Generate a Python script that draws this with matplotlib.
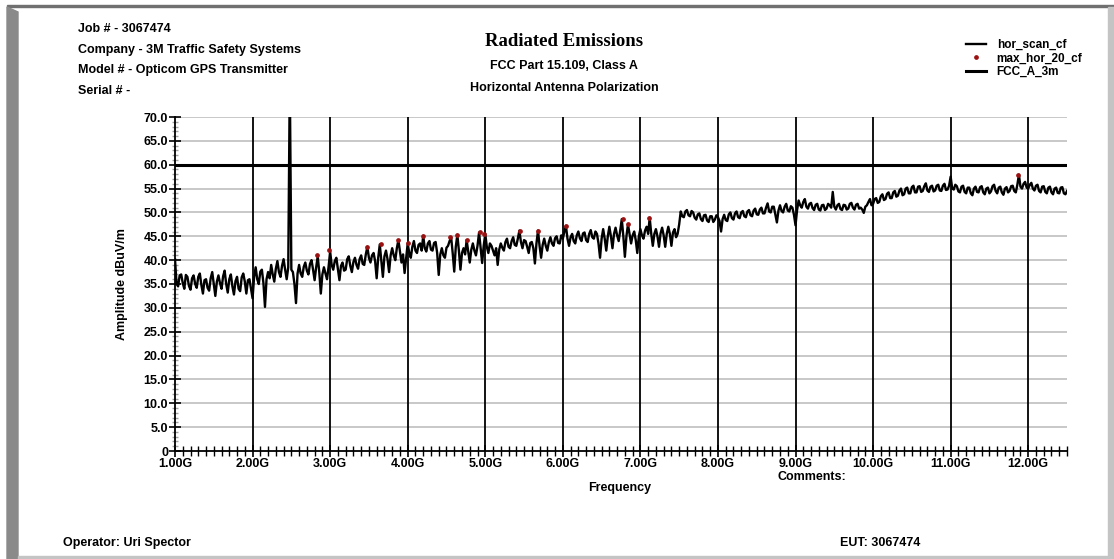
import numpy as np
import matplotlib
matplotlib.use("Agg")
import matplotlib.pyplot as plt
from matplotlib.patches import Rectangle, Polygon
from matplotlib.ticker import MultipleLocator, FuncFormatter

plt.rcParams['font.family'] = ['Liberation Sans', 'DejaVu Sans']
plt.rcParams['font.weight'] = 'bold'

# sweep grid of the analyzer trace (GHz)
freq_start = 1.00
freq_step = 0.02

# hor_scan_cf, dBuV/m, one block per GHz (x.00 .. x.98)
hor_scan_cf = [
    # 1 GHz
    40.2, 35.0, 34.5, 36.8, 37.0, 35.2, 34.0, 36.9, 36.5, 34.6,
    33.8, 36.2, 36.8, 35.0, 34.2, 36.5, 37.2, 34.8, 33.0, 35.8,
    36.0, 34.2, 33.6, 36.2, 37.5, 35.0, 32.5, 35.5, 36.8, 35.2,
    34.0, 36.6, 37.8, 35.0, 33.2, 36.0, 37.0, 34.5, 32.8, 35.6,
    36.5, 34.0, 33.5, 36.4, 37.2, 35.5, 33.0, 35.8, 36.0, 34.0,
    # 2 GHz
    32.0, 36.5, 38.5, 36.0, 35.0, 37.6, 38.0, 35.2, 30.2, 36.0,
    37.5, 36.2, 39.0, 37.0, 35.5, 38.2, 39.8, 37.5, 36.5, 38.8,
    40.2, 38.0, 36.0, 38.5, 78.0, 38.0, 37.5, 35.0, 31.0, 37.2,
    39.0, 37.2, 36.5, 38.6, 39.5, 37.8, 37.0, 39.2, 40.0, 38.0,
    35.8, 38.5, 40.8, 37.5, 33.0, 37.0, 38.5, 37.2, 36.0, 38.6,
    # 3 GHz
    41.8, 39.0, 38.0, 39.8, 40.5, 38.2, 35.8, 38.8, 39.5, 37.8,
    38.0, 40.2, 40.8, 38.8, 37.5, 39.6, 40.5, 39.0, 38.2, 40.2,
    41.0, 39.2, 39.0, 41.2, 42.8, 40.5, 39.5, 41.0, 41.5, 39.8,
    36.2, 40.5, 43.3, 40.0, 36.5, 40.8, 42.0, 40.2, 37.5, 41.0,
    42.5, 41.0, 40.0, 42.5, 44.2, 41.8, 39.5, 41.2, 37.3, 40.5,
    # 4 GHz
    43.5, 41.5, 40.5, 42.8, 44.0, 42.0, 41.5, 43.2, 43.5, 42.0,
    45.1, 42.5, 41.8, 43.5, 44.0, 42.2, 42.0, 43.6, 43.8, 41.5,
    36.9, 41.2, 42.5, 41.0, 40.5, 42.6, 43.0, 44.0, 44.8, 41.5,
    37.6, 42.8, 45.3, 42.0, 38.0, 41.5, 42.5, 41.2, 44.2, 41.8,
    39.5, 42.2, 43.5, 42.0, 41.0, 43.0, 45.8, 42.5, 39.4, 43.0,
    # 5 GHz
    45.5, 42.8, 41.5, 43.5, 43.0, 42.0, 41.0, 42.5, 39.0, 42.2,
    43.5, 42.6, 42.0, 43.8, 44.5, 42.8, 42.5, 44.0, 44.8, 43.2,
    43.0, 44.5, 46.2, 43.8, 42.5, 44.2, 44.0, 42.8, 41.5, 43.6,
    43.8, 42.5, 39.3, 43.5, 46.2, 43.0, 40.5, 43.2, 44.5, 43.0,
    42.0, 43.8, 44.8, 43.5, 43.0, 44.6, 45.0, 43.6, 43.5, 45.2,
    # 6 GHz
    44.5, 46.0, 47.2, 44.5, 43.0, 44.8, 45.5, 44.0, 43.5, 45.2,
    46.0, 44.6, 44.0, 45.6, 45.8, 44.2, 43.8, 45.5, 46.3, 44.8,
    44.5, 46.0, 45.5, 43.5, 40.5, 44.5, 46.5, 44.5, 42.0, 45.0,
    47.0, 45.0, 42.5, 45.5, 46.8, 45.2, 44.0, 46.2, 48.6, 45.0,
    40.7, 45.0, 47.5, 45.5, 43.5, 45.2, 46.0, 44.2, 41.5, 45.0,
    # 7 GHz
    46.5, 45.2, 44.5, 46.2, 47.0, 45.5, 48.9, 45.5, 43.0, 45.5,
    46.5, 45.0, 42.8, 45.6, 46.8, 45.2, 42.8, 45.5, 47.0, 45.5,
    43.0, 45.8, 46.5, 44.8, 45.5, 47.5, 50.2, 49.2, 49.0, 50.2,
    50.5, 49.4, 49.2, 50.3, 50.0, 48.9, 48.5, 49.6, 49.8, 48.6,
    48.2, 49.4, 49.5, 48.3, 48.0, 49.2, 49.2, 48.0, 48.5, 49.4,
    # 8 GHz
    49.0, 48.2, 46.0, 48.6, 49.5, 48.4, 48.2, 49.6, 50.0, 48.8,
    48.5, 49.8, 50.2, 49.0, 48.8, 50.0, 50.3, 49.2, 49.0, 50.2,
    50.5, 49.4, 49.2, 50.4, 50.8, 49.6, 49.5, 50.6, 51.0, 49.8,
    49.8, 51.0, 51.9, 50.2, 50.0, 51.2, 51.2, 49.5, 47.9, 50.4,
    51.5, 50.3, 50.0, 51.2, 51.8, 50.4, 50.2, 51.3, 51.0, 49.5,
    # 9 GHz
    47.3, 50.5, 52.5, 51.5, 51.0, 52.2, 52.8, 51.2, 50.8, 51.8,
    52.0, 50.9, 50.5, 51.6, 51.8, 50.6, 50.4, 51.5, 51.6, 50.5,
    50.8, 51.8, 51.5, 51.0, 54.3, 51.2, 50.6, 51.5, 51.8, 50.7,
    50.5, 51.6, 51.5, 50.6, 50.8, 51.8, 52.0, 51.0, 50.6, 51.6,
    51.8, 50.8, 51.0, 50.6, 49.9, 51.2, 51.5, 52.2, 52.8, 51.5,
    # 10 GHz
    51.8, 52.8, 53.0, 52.0, 52.2, 53.4, 53.8, 52.6, 52.8, 53.9,
    54.2, 53.0, 53.0, 54.2, 54.5, 53.3, 53.5, 54.6, 55.0, 53.6,
    53.8, 55.0, 55.2, 54.0, 54.0, 55.3, 55.6, 54.2, 54.2, 55.4,
    55.5, 54.3, 54.5, 55.5, 56.1, 54.6, 54.3, 55.4, 55.6, 54.4,
    54.6, 55.6, 55.8, 54.6, 54.5, 55.6, 56.0, 54.7, 54.8, 55.6,
    # 11 GHz
    57.5, 55.0, 54.8, 55.8, 55.5, 54.4, 54.2, 55.4, 55.6, 54.3,
    54.0, 55.2, 55.2, 54.0, 53.6, 55.0, 55.4, 54.3, 54.2, 55.3,
    55.5, 54.2, 53.8, 55.0, 55.2, 54.0, 54.4, 55.5, 55.8, 54.5,
    54.0, 55.2, 55.4, 54.2, 53.7, 55.0, 55.3, 54.2, 54.5, 55.5,
    55.6, 54.5, 54.2, 55.8, 57.9, 55.4, 55.0, 56.0, 56.4, 55.2,
    # 12 GHz .. 12.50
    55.0, 55.8, 56.2, 55.0, 54.6, 55.6, 55.8, 54.5, 54.2, 55.4,
    55.5, 54.3, 54.0, 55.2, 55.4, 54.2, 53.8, 55.0, 55.2, 54.1,
    54.0, 55.2, 55.3, 54.0, 53.8, 54.5,
]

# max_hor_20_cf peak points
max_freq = [2.83, 2.98, 3.47, 3.65, 3.87, 4.01, 4.20, 4.54, 4.64, 4.77,
            4.93, 4.99, 5.45, 5.68, 6.04, 6.77, 6.84, 7.11, 11.87]
max_amp = [41.0, 42.1, 42.8, 43.3, 44.2, 43.5, 45.1, 44.8, 45.3, 44.2,
           45.8, 45.5, 46.2, 46.2, 47.2, 48.6, 47.5, 48.9, 57.9]

# FCC Class A limit at 3 m
limit_freq = [1.0, 12.5]
limit_amp = [60.0, 60.0]

header_lines = ["Job # - 3067474", "Company - 3M Traffic Safety Systems",
                "Model # - Opticom GPS Transmitter", "Serial # -"]

W, H = 1114, 559
fig = plt.figure(figsize=(W / 100, H / 100), dpi=100)
fig.patch.set_facecolor('white')

# panel frame
fig.patches.append(Rectangle((7 / W, 1 - 7 / H), (W - 7) / W, 2 / H,
                             transform=fig.transFigure, color='#707070'))
fig.patches.append(Polygon([(7 / W, 1 - 7 / H), (18 / W, 1 - 12 / H),
                            (18 / W, 0), (7 / W, 0)],
                           transform=fig.transFigure, color='#8a8a8a'))
fig.patches.append(Rectangle((1108 / W, 0), 6 / W, 1 - 7 / H,
                             transform=fig.transFigure, color='#c4c4c4'))
fig.patches.append(Rectangle((18 / W, 0), (1108 - 18) / W, 3 / H,
                             transform=fig.transFigure, color='#c4c4c4'))

ax = fig.add_axes([175 / W, 1 - 451 / H, (1067 - 175) / W, (451 - 117) / H])

freqs = freq_start + freq_step * np.arange(len(hor_scan_cf))

ax.set_xlim(1.0, 12.5)
ax.set_ylim(0, 70)

for yv in np.arange(5, 71, 5):
    ax.axhline(yv, color='#c8c8c8', lw=1.4, zorder=1)
for xv in range(2, 13):
    ax.axvline(xv, color='black', lw=1.3, zorder=1)

l1, = ax.plot(freqs, hor_scan_cf, color='black', lw=1.7, zorder=3,
              label='hor_scan_cf')
l2, = ax.plot(max_freq, max_amp, ls='none', marker='o', ms=2.4,
              color='#9b1010', zorder=4, label='max_hor_20_cf')
l3, = ax.plot(limit_freq, limit_amp, color='black', lw=2.2, zorder=2,
              label='FCC_A_3m')

ax.spines['top'].set_visible(False)
ax.spines['right'].set_visible(False)
for s in ('left', 'bottom'):
    ax.spines[s].set_linewidth(1.3)

ax.xaxis.set_major_locator(MultipleLocator(1))
ax.xaxis.set_minor_locator(MultipleLocator(0.1))
ax.xaxis.set_major_formatter(FuncFormatter(lambda v, p: f"{v:.2f}G"))
ax.yaxis.set_major_locator(MultipleLocator(5))
ax.yaxis.set_minor_locator(MultipleLocator(1))
ax.yaxis.set_major_formatter(FuncFormatter(lambda v, p: "0" if v == 0 else f"{v:.1f}"))

ax.tick_params(axis='both', which='major', direction='inout', length=8,
               width=1.2, labelsize=9, pad=1)
ax.tick_params(axis='x', which='minor', direction='inout', length=7, width=1.0)
ax.tick_params(axis='y', which='minor', direction='inout', length=5, width=1.0,
               color='#a0a0a0')
for lab in ax.get_xticklabels() + ax.get_yticklabels():
    lab.set_fontweight('bold')

ax.set_ylabel('Amplitude dBuV/m', fontsize=9, fontweight='bold', labelpad=11)
fig.text(620 / W, 1 - 488 / H, 'Frequency', ha='center', va='center',
         fontsize=9, fontweight='bold')
fig.text(812 / W, 1 - 477 / H, 'Comments:', ha='center', va='center',
         fontsize=9, fontweight='bold')

# header block
for i, line in enumerate(header_lines):
    fig.text(78 / W, 1 - (29 + 20.7 * i) / H, line, ha='left', va='center',
             fontsize=9, fontweight='bold')

fig.text(564 / W, 1 - 42 / H, 'Radiated Emissions', ha='center', va='center',
         fontsize=13.5, fontweight='bold', family='Liberation Serif')
fig.text(564 / W, 1 - 66 / H, 'FCC Part 15.109, Class A', ha='center',
         va='center', fontsize=9, fontweight='bold')
fig.text(564 / W, 1 - 88 / H, 'Horizontal Antenna Polarization', ha='center',
         va='center', fontsize=9, fontweight='bold')

fig.text(63 / W, 1 - 543 / H, 'Operator: Uri Spector', ha='left', va='center',
         fontsize=9, fontweight='bold')
fig.text(840 / W, 1 - 543 / H, 'EUT: 3067474', ha='left', va='center',
         fontsize=9, fontweight='bold')

fig.legend(handles=[l1, l2, l3], loc='upper left',
           bbox_to_anchor=(966 / W, 1 - 39 / H), frameon=False,
           handlelength=1.7, handletextpad=0.9,
           labelspacing=0.12, borderpad=0, borderaxespad=0,
           prop={'weight': 'bold', 'size': 8.5})

fig.savefig('out.png', dpi=100)
